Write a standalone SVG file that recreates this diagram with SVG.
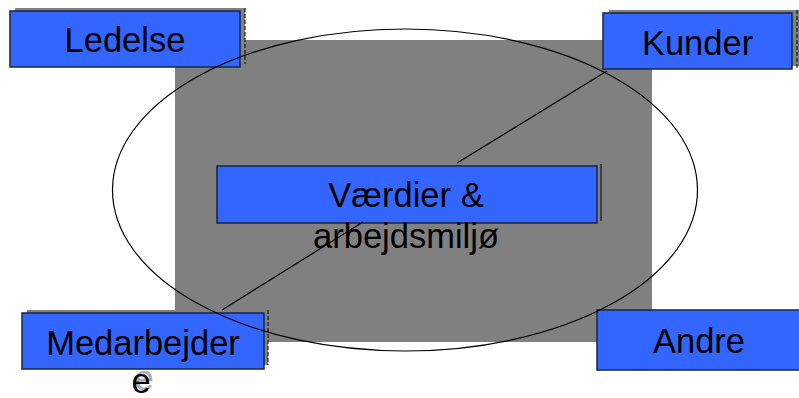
<svg xmlns="http://www.w3.org/2000/svg" width="799" height="398" viewBox="0 0 799 398">
<style>
.box{fill:#3366ff;stroke:#1a2444;stroke-width:1.5}
.shadow{fill:#808080}
.dash{stroke:#000;stroke-width:1;stroke-dasharray:4 2;fill:none}
.lbl{font-family:"Liberation Sans",Arial,sans-serif;font-size:34.5px;fill:#000;text-anchor:middle}
.conn{stroke:#000;stroke-width:1.2;fill:none}
</style>
<rect x="175" y="40" width="477" height="302" fill="#808080"/>
<g id="ledelse">
<rect class="shadow" x="15" y="8" width="230" height="56"/>
<line class="dash" x1="245" y1="8" x2="245" y2="64"/>
<rect class="box" x="10" y="11" width="230" height="56"/>
<text class="lbl" x="125" y="52">Ledelse</text>
</g>
<g id="kunder">
<rect class="shadow" x="609" y="10" width="190" height="56"/>
<line class="dash" x1="797" y1="10" x2="797" y2="68"/>
<rect class="box" x="603" y="13" width="189" height="56"/>
<text class="lbl" x="697.5" y="55">Kunder</text>
</g>
<g id="vaerdier">
<rect class="shadow" x="221" y="164" width="380" height="57"/>
<line x1="601" y1="164" x2="601" y2="221" stroke="#000" stroke-width="1"/>
<rect class="box" x="217" y="166" width="380" height="57"/>
<text class="lbl" x="406" y="207">Værdier &amp;</text>
<text class="lbl" x="406" y="248">arbejdsmiljø</text>
</g>
<g id="medarbejder">
<rect class="shadow" x="27" y="310" width="241" height="55"/>
<line class="dash" x1="268" y1="310" x2="268" y2="365"/>
<rect class="box" x="22" y="313" width="242" height="56"/>
<text class="lbl" x="143" y="355">Medarbejder</text>
<text class="lbl" x="144" y="390" style="fill:#aaa">e</text>
<text class="lbl" x="141" y="393">e</text>
</g>
<g id="andre">
<rect class="box" x="597" y="310" width="206" height="60"/>
<text class="lbl" x="699" y="353">Andre</text>
</g>
<g id="connectors">
<ellipse class="conn" cx="405" cy="190" rx="292.5" ry="161" stroke-width="1.8"/>
<line class="conn" x1="457" y1="163" x2="607" y2="71"/>
<line class="conn" x1="363" y1="222" x2="222" y2="310"/>
</g>
</svg>
